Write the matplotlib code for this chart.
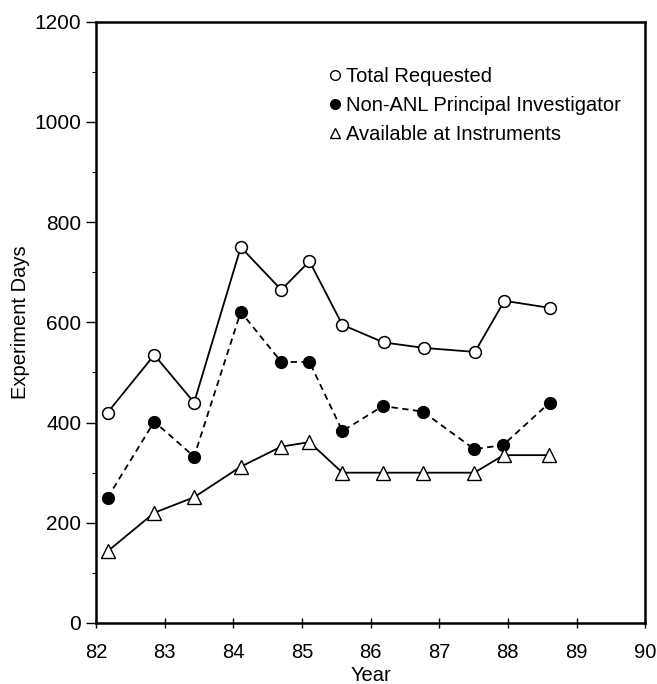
import matplotlib.pyplot as plt
from matplotlib.lines import Line2D

plt.rcParams['font.family'] = ['Liberation Sans', 'DejaVu Sans']

# Data
years_total = [82.17, 82.85, 83.43, 84.11, 84.70, 85.11, 85.59, 86.19, 86.78, 87.52, 87.95, 88.61]
total_requested = [420, 535, 440, 750, 665, 722, 595, 560, 549, 541, 643, 629]

years_non_anl = [82.17, 82.85, 83.43, 84.11, 84.70, 85.11, 85.59, 86.18, 86.76, 87.51, 87.93, 88.61]
non_anl = [250, 402, 332, 621, 521, 521, 383, 433, 422, 347, 355, 440]

years_avail = [82.17, 82.85, 83.43, 84.11, 84.70, 85.11, 85.59, 86.18, 86.76, 87.51, 87.94, 88.60]
available = [143, 220, 251, 312, 352, 361, 300, 300, 300, 300, 335, 335]

labels = ['Total Requested', 'Non-ANL Principal Investigator', 'Available at Instruments']

fig = plt.figure(figsize=(6.57, 6.84), dpi=100)
ax = fig.add_axes([0.146, 0.0892, 0.836, 0.879])

ax.plot(years_total, total_requested, '-', color='black', lw=1.3,
        marker='o', ms=8.5, mfc='white', mec='black', mew=1.1)
ax.plot(years_non_anl, non_anl, color='black', lw=1.3, dashes=(3.5, 2.5),
        marker='o', ms=8.5, mfc='black', mec='black')
ax.plot(years_avail, available, '-', color='black', lw=1.3,
        marker='^', ms=9.5, mfc='white', mec='black', mew=1.0)

ax.set_xlim(82, 90)
ax.set_ylim(0, 1200)
ax.set_xticks(range(82, 91))
ax.set_yticks(range(0, 1201, 200))
ax.set_yticks(range(100, 1200, 200), minor=True)

for s in ax.spines.values():
    s.set_linewidth(1.8)

ax.tick_params(axis='y', which='major', direction='out', length=7, width=1.0, labelsize=15)
ax.tick_params(axis='y', which='minor', direction='out', length=3, width=0.8)
ax.tick_params(axis='x', which='major', direction='inout', length=7, width=1.0,
               labelsize=14.5, pad=11)

ax.set_xlabel('Year', fontsize=14.5, labelpad=3)
ax.set_ylabel('Experiment Days', fontsize=14.5, labelpad=3)

handles = [
    Line2D([], [], ls='none', marker='o', ms=7, mfc='white', mec='black', mew=1.0),
    Line2D([], [], ls='none', marker='o', ms=7, mfc='black', mec='black'),
    Line2D([], [], ls='none', marker='^', ms=7, mfc='white', mec='black', mew=1.0),
]
ax.legend(handles, labels, loc='upper left', bbox_to_anchor=(0.392, 0.955), frameon=False,
          fontsize=14.5, handlelength=0.6, handletextpad=0.25, labelspacing=0.5)

plt.savefig('out.png', dpi=100)
